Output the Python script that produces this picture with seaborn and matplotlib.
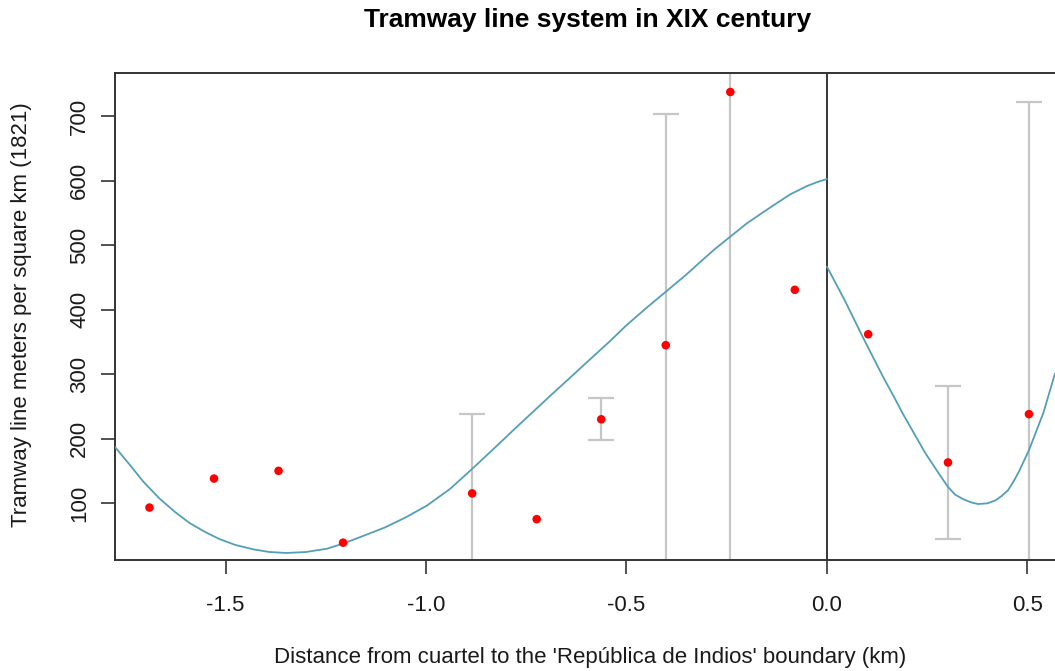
import numpy as np
import pandas as pd
import matplotlib
matplotlib.use("Agg")
import matplotlib.pyplot as plt
import seaborn as sns

# ---- binned means (red points) ----
bin_x = [-1.690, -1.529, -1.368, -1.207, -0.885, -0.724, -0.563, -0.402, -0.241, -0.080,
         0.103, 0.302, 0.504]
bin_y = [93, 138, 150, 38.5, 115, 75, 230, 345, 738, 431, 362, 163, 238]

# ---- confidence intervals (gray bars) ----
ci_x = [-0.885, -0.563, -0.402, -0.241, 0.302, 0.504]
ci_lo = [-60, 198, -60, -60, 44, -60]
ci_hi = [238, 262.6, 704, 950, 281, 722]

# ---- fitted polynomial, left of the cutoff ----
left_x = [-1.776, -1.740, -1.705, -1.665, -1.626, -1.590, -1.551, -1.515, -1.476,
          -1.430, -1.390, -1.349, -1.300, -1.248, -1.207, -1.165, -1.103, -1.050,
          -0.998, -0.940, -0.885, -0.830, -0.774, -0.729, -0.691, -0.640, -0.591,
          -0.540, -0.500, -0.450, -0.400, -0.350, -0.320, -0.280, -0.240, -0.200,
          -0.160, -0.131, -0.092, -0.050, -0.025, 0.0]
left_y = [187, 160, 133, 107, 86, 69, 55, 44, 35,
          28, 24, 22.5, 24, 29, 37, 47, 62, 78,
          96, 122, 153, 185, 218, 244, 266, 295, 323,
          352, 376, 403, 429, 455, 472, 494, 514, 534,
          551, 563, 579, 592, 598, 603]

# ---- fitted polynomial, right of the cutoff ----
right_x = [0.0, 0.045, 0.090, 0.140, 0.168, 0.190, 0.245, 0.280, 0.302, 0.320,
           0.340, 0.360, 0.377, 0.400, 0.420, 0.436, 0.452, 0.466, 0.480, 0.504,
           0.540, 0.569]
right_y = [467, 414, 357, 296, 264, 238, 178, 145, 125, 113,
           106, 101, 98.5, 99.5, 104, 111, 120, 134, 150, 182,
           240, 301]

x_ticks = [-1.5, -1.0, -0.5, 0.0, 0.5]
x_tick_labels = ["-1.5", "-1.0", "-0.5", "0.0", "0.5"]
y_ticks = [100, 200, 300, 400, 500, 600, 700]

sns.set_style("white")
plt.rcParams['font.family'] = ['Liberation Sans', 'DejaVu Sans']

W, H = 1055, 671
fig = plt.figure(figsize=(W / 100, H / 100), dpi=100)
ax = fig.add_axes([115 / W, 1 - 560 / H, 1 - 115 / W, (560 - 73) / H])

curve_col = "#549fb8"
ci_col = "#c6c6c6"
txt_col = "#1a1a1a"

# confidence intervals
mid = [(l + h) / 2 for l, h in zip(ci_lo, ci_hi)]
half = [(h - l) / 2 for l, h in zip(ci_lo, ci_hi)]
ax.errorbar(ci_x, mid, yerr=[half, half],
            fmt="none", ecolor=ci_col, elinewidth=1.6, capsize=9.5, capthick=1.6, zorder=1)

# cutoff line
ax.axvline(0.0, color="black", lw=1.1, zorder=2)

left_df = pd.DataFrame({"x": left_x, "y": left_y})
right_df = pd.DataFrame({"x": right_x, "y": right_y})
sns.lineplot(data=left_df, x="x", y="y", ax=ax, color=curve_col, lw=1.3,
             sort=False, estimator=None, zorder=3)
sns.lineplot(data=right_df, x="x", y="y", ax=ax, color=curve_col, lw=1.3,
             sort=False, estimator=None, zorder=3)

pts = pd.DataFrame({"x": bin_x, "y": bin_y})
sns.scatterplot(data=pts, x="x", y="y", ax=ax, color="#ff0000", s=38,
                edgecolor="none", zorder=4)

ax.set_xlim(-1.776, 0.569)
ax.set_ylim(11.6, 767.5)

ax.set_xticks(x_ticks)
ax.set_xticklabels(x_tick_labels)
ax.set_yticks(y_ticks)
ax.set_yticklabels([str(v) for v in y_ticks], rotation=90, va="center")
ax.tick_params(axis="both", direction="out", length=10, width=1.2, color="#333333",
               labelsize=16, labelcolor=txt_col, bottom=True, left=True)
ax.tick_params(axis="x", pad=15)
ax.tick_params(axis="y", pad=8)

for side in ["left", "top", "bottom"]:
    ax.spines[side].set_color("#333333")
    ax.spines[side].set_linewidth(1.4)
ax.spines["right"].set_visible(False)

ax.set_xlabel("")
ax.set_ylabel("")
fig.text(590 / W, 1 - 657 / H,
         "Distance from cuartel to the 'República de Indios' boundary (km)",
         ha="center", va="center", fontsize=16, color=txt_col)
fig.text(22 / W, 1 - 315 / H, "Tramway line meters per square km (1821)",
         ha="center", va="center", rotation=90, fontsize=16, color=txt_col)
fig.text(588 / W, 1 - 20 / H, "Tramway line system in XIX century",
         ha="center", va="center", fontsize=19, fontweight="bold", color="black")

fig.savefig("out.png", dpi=100)
